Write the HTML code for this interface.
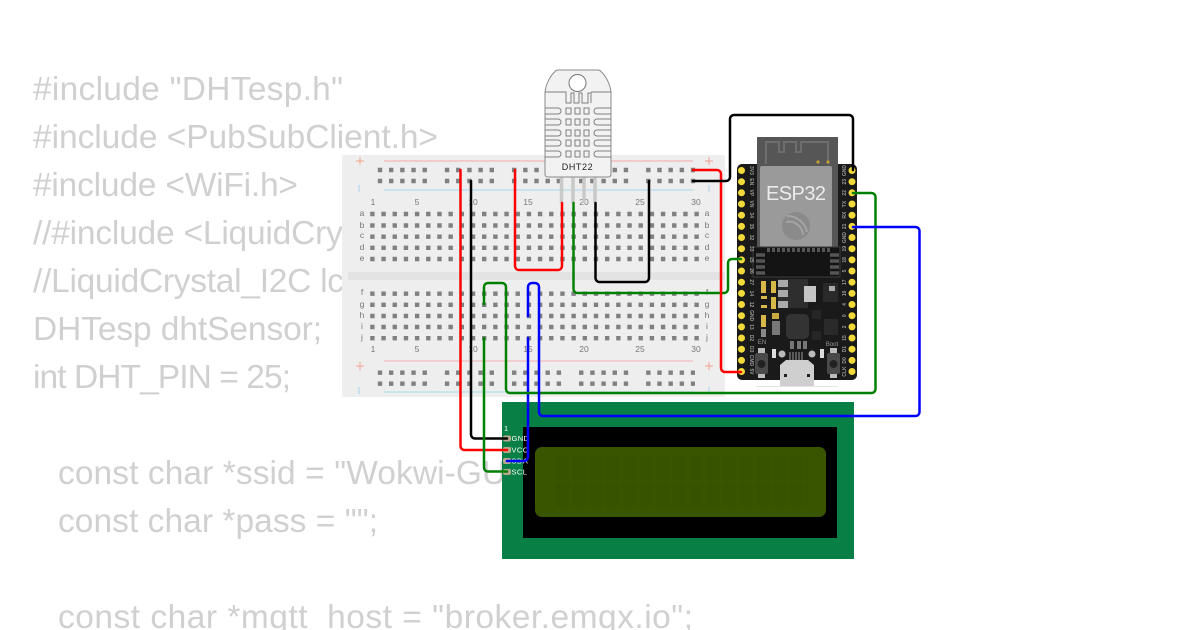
<!DOCTYPE html>
<html><head><meta charset="utf-8"><style>
html,body{margin:0;padding:0;background:#fff;width:1200px;height:630px;overflow:hidden}
svg{display:block}
.code{font:33.5px "Liberation Sans",sans-serif;fill:#d0d0d0}
.n{font:8.5px "Liberation Sans",sans-serif;fill:#777;text-anchor:middle}
.p{font:bold 5px "Liberation Sans",sans-serif;fill:#999;text-anchor:middle}
.l{font:7.5px "Liberation Sans",sans-serif;fill:#fff;letter-spacing:.4px}
.w{fill:none;stroke-width:2.5;stroke-linejoin:round;stroke-linecap:round}
</style></head><body>
<svg width="1200" height="630" viewBox="0 0 1200 630" xmlns="http://www.w3.org/2000/svg">
<!-- code -->
<g class="code">
<text x="33" y="100" textLength="310">#include "DHTesp.h"</text>
<text x="33" y="148" textLength="405">#include &lt;PubSubClient.h&gt;</text>
<text x="33" y="196" textLength="265">#include &lt;WiFi.h&gt;</text>
<text x="33" y="244" textLength="478">//#include &lt;LiquidCrystal_I2C.h&gt;</text>
<text x="33" y="292" textLength="505">//LiquidCrystal_I2C lcd(0x27,16,2);</text>
<text x="33" y="340" textLength="289">DHTesp dhtSensor;</text>
<text x="33" y="388" textLength="258">int DHT_PIN = 25;</text>
<text x="58" y="484" textLength="535">const char *ssid = "Wokwi-GUEST";</text>
<text x="58" y="532" textLength="320">const char *pass = "";</text>
<text x="58" y="628" textLength="635">const char *mqtt_host = "broker.emqx.io";</text>
</g>
<!-- breadboard -->
<rect x="342" y="155" width="383" height="242" rx="2" fill="#eeeeee"/>
<rect x="348" y="272" width="377" height="8" fill="#e3e3e3"/>
<g fill="none" stroke-width="1">
<line x1="384" y1="161" x2="693" y2="161" stroke="#f0a8a8"/>
<line x1="384" y1="190" x2="693" y2="190" stroke="#a8d4ee"/>
<line x1="384" y1="361" x2="693" y2="361" stroke="#f0b0b0"/>
<line x1="384" y1="392" x2="693" y2="392" stroke="#a8dcee"/>
<path d="M356 161h8M360 157v8M705 161h8M709 157v8M356 366h8M360 362v8M705 366h8M709 362v8" stroke="#f2a090"/>
<path d="M359 185v7M709 185v7M359 387v7M709 387v7" stroke="#a8d4ee"/>
</g>
<!-- holes -->
<g stroke="#808080" stroke-width="4.4" stroke-dasharray="4.4 6.78" fill="none">
<path d="M370.2 214H699M370.2 225.5H699M370.2 236.7H699M370.2 247.8H699M370.2 259H699M370.2 293.7H699M370.2 304.8H699M370.2 316H699M370.2 327H699M370.2 338.2H699"/>
</g>
<g stroke="#808080" stroke-width="4.4" stroke-dasharray="4.4 6.78 4.4 6.78 4.4 6.78 4.4 6.78 4.4 17.96" fill="none">
<path d="M377.8 170H695M377.8 181H695M377.8 372.7H695M377.8 383.7H695"/>
</g>
<g class="n">
<text x="373" y="205">1</text><text x="417" y="205">5</text><text x="473" y="205">10</text><text x="528" y="205">15</text><text x="584" y="205">20</text><text x="640" y="205">25</text><text x="696" y="205">30</text>
<text x="373" y="352">1</text><text x="417" y="352">5</text><text x="473" y="352">10</text><text x="528" y="352">15</text><text x="584" y="352">20</text><text x="640" y="352">25</text><text x="696" y="352">30</text>
<text x="362" y="216">a</text><text x="362" y="228">b</text><text x="362" y="238">c</text><text x="362" y="250">d</text><text x="362" y="261">e</text>
<text x="362" y="295">f</text><text x="362" y="307">g</text><text x="362" y="318">h</text><text x="362" y="329">i</text><text x="362" y="340">j</text>
<text x="707" y="216">a</text><text x="707" y="228">b</text><text x="707" y="238">c</text><text x="707" y="250">d</text><text x="707" y="261">e</text>
<text x="707" y="295">f</text><text x="707" y="307">g</text><text x="707" y="318">h</text><text x="707" y="329">i</text><text x="707" y="340">j</text>
</g>
<!-- DHT22 pins -->
<g stroke="#c9c9c9" stroke-width="3.5"><path d="M561.5 175V203M573 175V203M584 175V203M595 175V203"/></g>
<!-- DHT22 -->
<path d="M545 92C546 84 550 76 555 71.500Q556 70 558 70H598Q600 70 601 71.500C606 76 610 84 611 92V174Q611 177 608 177H548Q545 177 545 174Z" fill="#f2f2f2" stroke="#8a8a8a"/>
<circle cx="577.500" cy="83" r="8.5" fill="#fff" stroke="#777"/>
<g fill="none" stroke="#808080" stroke-width="1">
<path d="M545 92H564M591 92H611"/>
<path d="M564 92H566V103H571V93H574V103H579V93H582V103H588V93H591V103"/>
<path d="M545 108H558a3 3 0 0 1 0 6H545M545 119H558a3 3 0 0 1 0 6H545M545 130H558a3 3 0 0 1 0 6H545M545 140H558a3 3 0 0 1 0 6H545M545 151H558a3 3 0 0 1 0 6H545"/>
<path d="M611 108H597a3 3 0 0 0 0 6H611M611 119H597a3 3 0 0 0 0 6H611M611 130H597a3 3 0 0 0 0 6H611M611 140H597a3 3 0 0 0 0 6H611M611 151H597a3 3 0 0 0 0 6H611"/>
<path d="M566 108h5v6h-5zM575 108h5v6h-5zM584 108h5v6h-5zM566 119h5v6h-5zM575 119h5v6h-5zM584 119h5v6h-5zM566 130h5v6h-5zM575 130h5v6h-5zM584 130h5v6h-5zM566 140h5v6h-5zM575 140h5v6h-5zM584 140h5v6h-5zM566 151h5v6h-5zM575 151h5v6h-5zM584 151h5v6h-5z"/>
</g>
<text x="577.5" y="170" font-family="Liberation Sans,sans-serif" font-size="9" text-anchor="middle" fill="#222" letter-spacing=".6">DHT22</text>
<!-- ESP32 -->
<rect x="737" y="164" width="120" height="216" rx="5" fill="#1a1a1a"/>
<rect x="757" y="137" width="81" height="113" fill="#565656"/>
<path d="M766 164V142H779V152H784V142H796V152H801V142H828V164" fill="none" stroke="#6e6e6e" stroke-width="2"/>
<circle cx="818" cy="162" r="1.6" fill="#c0a030"/><circle cx="828" cy="162" r="1.6" fill="#c0a030"/>
<rect x="760" y="166" width="72" height="81" rx="2" fill="#9a9a9a"/>
<text x="796" y="200" font-family="Liberation Sans,sans-serif" font-size="20" fill="#ececec" text-anchor="middle" textLength="60">ESP32</text>
<circle cx="796" cy="226" r="14" fill="#8a8a8a"/>
<path d="M786 222a14 14 0 0 1 17 13M787 216a20 20 0 0 1 20 16" fill="none" stroke="#a4a4a4" stroke-width="2"/>
<rect x="753" y="247" width="87" height="30" fill="#141414" stroke="#3c3c3c"/>
<path d="M767 250H830" stroke="#555" stroke-width="4" stroke-dasharray="3 2"/>
<path d="M756 255h9M756 261h9M756 267h9M756 273h9M830 255h9M830 261h9M830 267h9M830 273h9" stroke="#555" stroke-width="3.5"/>
<!-- components -->
<rect x="778" y="279" width="30" height="29" fill="#2e2e2e"/>
<rect x="778" y="280" width="10" height="7" fill="#aaa"/><rect x="778" y="290" width="10" height="7" fill="#aaa"/><rect x="778" y="301" width="10" height="7" fill="#aaa"/>
<rect x="804" y="286" width="12" height="16" fill="#c4c4c4"/>
<rect x="761" y="281" width="5" height="12" fill="#d9b84a"/><rect x="771" y="281" width="5" height="12" fill="#d9b84a"/>
<rect x="771" y="297" width="5" height="12" fill="#d9b84a"/><rect x="761" y="296" width="6" height="3" fill="#d9b84a"/><rect x="761" y="305" width="6" height="3" fill="#d9b84a"/>
<rect x="761" y="315" width="5" height="12" fill="#d9b84a"/><rect x="772" y="313" width="7" height="6" fill="#c8a840"/>
<rect x="772" y="321" width="8" height="14" fill="#777"/>
<rect x="761" y="329" width="5" height="8" fill="#888"/>
<rect x="786" y="314" width="23" height="25" rx="5" fill="#333"/>
<rect x="823" y="283" width="15" height="19" fill="#2a2a2a"/><rect x="829" y="286" width="6" height="5" fill="#aaa"/>
<rect x="824" y="319" width="14" height="16" fill="#2a2a2a"/>
<rect x="812" y="310" width="9" height="9" fill="#262626"/><rect x="812" y="331" width="9" height="9" fill="#262626"/>
<rect x="790" y="341" width="4" height="8" fill="#777"/><rect x="797" y="341" width="4" height="8" fill="#777"/><rect x="803" y="341" width="4" height="8" fill="#777"/>
<rect x="772" y="349" width="4" height="9" fill="#ddd"/><rect x="820" y="349" width="4" height="9" fill="#ddd"/>
<circle cx="782" cy="354" r="3.5" fill="#bbb"/><circle cx="812" cy="354" r="3.5" fill="#bbb"/>
<path d="M790 352V360M793 352V360M796 352V360M799 352V360M802 352V360" stroke="#999" stroke-width="1"/>
<!-- USB -->
<path d="M780 386V365L786 360H808L814 365V386Z" fill="#cfcfcf"/>
<rect x="784" y="374" width="3" height="3" fill="#222"/><rect x="807" y="374" width="3" height="3" fill="#222"/>
<line x1="756" y1="386.500" x2="838" y2="386.500" stroke="#e4e4e4"/>
<!-- buttons -->
<rect x="758" y="348" width="7" height="6" fill="#bbb"/><rect x="758" y="373" width="7" height="5" fill="#bbb"/>
<rect x="755" y="353" width="13" height="21" rx="2" fill="#4a4a4a"/><circle cx="761.5" cy="364" r="4" fill="#222"/>
<rect x="830" y="348" width="7" height="6" fill="#bbb"/><rect x="830" y="373" width="7" height="5" fill="#bbb"/>
<rect x="827" y="353" width="13" height="21" rx="2" fill="#4a4a4a"/><circle cx="833.5" cy="364" r="4" fill="#222"/>
<text x="762" y="344" font-family="Liberation Sans,sans-serif" font-size="6" fill="#999" text-anchor="middle">EN</text>
<text x="832" y="346" font-family="Liberation Sans,sans-serif" font-size="6" fill="#999" text-anchor="middle">Boot</text>
<!-- pins -->
<g fill="#f3da3b">
<circle cx="741.5" cy="170.5" r="3.5"/><circle cx="741.5" cy="181.7" r="3.5"/><circle cx="741.5" cy="192.8" r="3.5"/><circle cx="741.5" cy="204" r="3.5"/><circle cx="741.5" cy="215.2" r="3.5"/><circle cx="741.5" cy="226.4" r="3.5"/><circle cx="741.5" cy="237.5" r="3.5"/><circle cx="741.5" cy="248.7" r="3.5"/><circle cx="741.5" cy="259.9" r="3.5"/><circle cx="741.5" cy="271" r="3.5"/><circle cx="741.5" cy="282.2" r="3.5"/><circle cx="741.5" cy="293.4" r="3.5"/><circle cx="741.5" cy="304.5" r="3.5"/><circle cx="741.5" cy="315.7" r="3.5"/><circle cx="741.5" cy="326.9" r="3.5"/><circle cx="741.5" cy="338" r="3.5"/><circle cx="741.5" cy="349.2" r="3.5"/><circle cx="741.5" cy="360.4" r="3.5"/><circle cx="741.5" cy="371.5" r="3.5"/>
<circle cx="852" cy="170.5" r="3.5"/><circle cx="852" cy="181.7" r="3.5"/><circle cx="852" cy="192.8" r="3.5"/><circle cx="852" cy="204" r="3.5"/><circle cx="852" cy="215.2" r="3.5"/><circle cx="852" cy="226.4" r="3.5"/><circle cx="852" cy="237.5" r="3.5"/><circle cx="852" cy="248.7" r="3.5"/><circle cx="852" cy="259.9" r="3.5"/><circle cx="852" cy="271" r="3.5"/><circle cx="852" cy="282.2" r="3.5"/><circle cx="852" cy="293.4" r="3.5"/><circle cx="852" cy="304.5" r="3.5"/><circle cx="852" cy="315.7" r="3.5"/><circle cx="852" cy="326.9" r="3.5"/><circle cx="852" cy="338" r="3.5"/><circle cx="852" cy="349.2" r="3.5"/><circle cx="852" cy="360.4" r="3.5"/><circle cx="852" cy="371.5" r="3.5"/>
</g>
<g class="p">
<text transform="translate(750,170.5) rotate(90)">3V3</text><text transform="translate(750,181.7) rotate(90)">EN</text><text transform="translate(750,192.8) rotate(90)">VP</text><text transform="translate(750,204) rotate(90)">VN</text><text transform="translate(750,215.2) rotate(90)">34</text><text transform="translate(750,226.4) rotate(90)">35</text><text transform="translate(750,237.5) rotate(90)">32</text><text transform="translate(750,248.7) rotate(90)">33</text><text transform="translate(750,259.9) rotate(90)">25</text><text transform="translate(750,271) rotate(90)">26</text><text transform="translate(750,282.2) rotate(90)">27</text><text transform="translate(750,293.4) rotate(90)">14</text><text transform="translate(750,304.5) rotate(90)">12</text><text transform="translate(750,315.7) rotate(90)">GND</text><text transform="translate(750,326.9) rotate(90)">13</text><text transform="translate(750,338) rotate(90)">D2</text><text transform="translate(750,349.2) rotate(90)">D3</text><text transform="translate(750,360.4) rotate(90)">CMD</text><text transform="translate(750,371.5) rotate(90)">5V</text>
<text transform="translate(846,170.5) rotate(-90)">GND</text><text transform="translate(846,181.7) rotate(-90)">23</text><text transform="translate(846,192.8) rotate(-90)">22</text><text transform="translate(846,204) rotate(-90)">TX</text><text transform="translate(846,215.2) rotate(-90)">RX</text><text transform="translate(846,226.4) rotate(-90)">21</text><text transform="translate(846,237.5) rotate(-90)">GND</text><text transform="translate(846,248.7) rotate(-90)">19</text><text transform="translate(846,259.9) rotate(-90)">18</text><text transform="translate(846,271) rotate(-90)">5</text><text transform="translate(846,282.2) rotate(-90)">17</text><text transform="translate(846,293.4) rotate(-90)">16</text><text transform="translate(846,304.5) rotate(-90)">4</text><text transform="translate(846,315.7) rotate(-90)">0</text><text transform="translate(846,326.9) rotate(-90)">2</text><text transform="translate(846,338) rotate(-90)">15</text><text transform="translate(846,349.2) rotate(-90)">D1</text><text transform="translate(846,360.4) rotate(-90)">D0</text><text transform="translate(846,371.5) rotate(-90)">CLK</text>
</g>
<!-- LCD -->
<rect x="502" y="402" width="352" height="157" fill="#087f45"/>
<rect x="523" y="427" width="314" height="111" fill="#000"/>
<rect x="535" y="447" width="291" height="70" rx="7" fill="#395500"/>
<g stroke="#385300" stroke-dasharray="13 3.7" fill="none">
<path d="M556 468H808M556 495H808" stroke-width="24"/>
</g>
<g fill="#b7a88e">
<rect x="503" y="435.5" width="8" height="6" rx="2"/><rect x="503" y="447" width="8" height="6" rx="2"/><rect x="503" y="458" width="8" height="6" rx="2"/><rect x="503" y="469" width="8" height="6" rx="2"/>
</g>
<g class="l">
<text x="504" y="431">1</text><text x="511.500" y="441">GND</text><text x="511.500" y="452.500">VCC</text><text x="511.500" y="463.500">SDA</text><text x="511.500" y="474.500">SCL</text>
</g>
<!-- wires -->
<g class="w">
<path stroke="#f00" d="M460.500 170V446a4 4 0 0 0 4 4H507"/>
<path stroke="#000" d="M471 181V434.500a4 4 0 0 0 4 4H507"/>
<path stroke="#008000" d="M484 338V467.500a4 4 0 0 0 4 4H507"/>
<path stroke="#00f" d="M528 338V457a4 4 0 0 1 -4 4H507"/>
<path stroke="#008000" d="M484 304V287a4 4 0 0 1 4 -4H502a4 4 0 0 1 4 4V389a4 4 0 0 0 4 4H871.500a4 4 0 0 0 4 -4V197a4 4 0 0 0 -4 -4H853"/>
<path stroke="#00f" d="M528 316V287a4 4 0 0 1 4 -4H535a4 4 0 0 1 4 4V412a4 4 0 0 0 4 4H915.500a4 4 0 0 0 4 -4V231a4 4 0 0 0 -4 -4H853"/>
<path stroke="#f00" d="M515 170V266a4 4 0 0 0 4 4H558a4 4 0 0 0 4 -4V203"/>
<path stroke="#000" d="M595.500 203V278a4 4 0 0 0 4 4H645a4 4 0 0 0 4 -4V181"/>
<path stroke="#008000" d="M573.500 203V289a4 4 0 0 0 4 4H724a4 4 0 0 0 4 -4V263a4 4 0 0 1 4 -4H741"/>
<path stroke="#f00" d="M693 170H717a4 4 0 0 1 4 4V368a4 4 0 0 0 4 4H741"/>
<path stroke="#000" d="M693 181H726a4 4 0 0 0 4 -4V119a4 4 0 0 1 4 -4H849a4 4 0 0 1 4 4V170"/>
</g>
</svg>
</body></html>
